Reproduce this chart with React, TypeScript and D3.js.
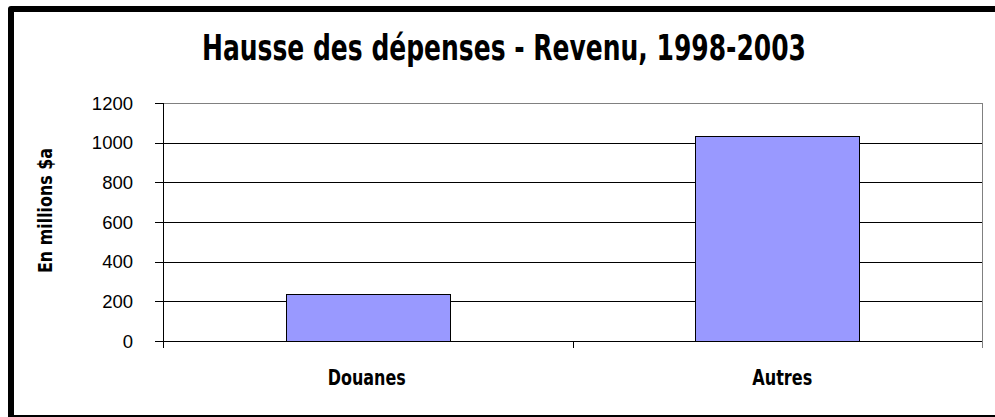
import React from "react";
import * as d3 from "d3";

const categories = ["Douanes", "Autres"];
const values = [237, 1032];
const yTicks = [0, 200, 400, 600, 800, 1000, 1200];
const title = "Hausse des dépenses - Revenu, 1998-2003";
const yLabel = "En millions $a";

const W = 995;
const H = 417;
const plot = { left: 163, right: 982, top: 103, bottom: 341 };
const condensed = "'Liberation Sans Narrow', 'DejaVu Sans Condensed', Roboto, 'Liberation Sans', Arial, sans-serif";

export default function App() {
  const x = d3
    .scaleBand<string>()
    .domain(categories)
    .range([plot.left, plot.right])
    .paddingInner(0.6)
    .paddingOuter(0.3);
  const band = d3.scaleBand<string>().domain(categories).range([plot.left, plot.right]);
  const y = d3.scaleLinear().domain([0, 1200]).range([plot.bottom, plot.top]);
  const labelWidths = [78, 60];
  const catTicks = [plot.left, ...categories.map((c) => (band(c) as number) + band.bandwidth())];

  const frame = d3.path();
  frame.moveTo(W + 10, 9);
  frame.lineTo(11, 9);
  frame.lineTo(11, 418);
  frame.lineTo(W + 10, 418);

  return (
    <div style={{ position: "absolute", left: 0, top: 0, width: W, height: H, overflow: "hidden" }}>
      <svg width={W} height={H} style={{ display: "block", background: "#fff" }}>
        <rect x={0} y={0} width={W} height={H} fill="#fff" />
        <path d={frame.toString()} fill="none" stroke="#000" strokeWidth={6} strokeLinejoin="round" />
        <text
          x={504}
          y={60}
          textAnchor="middle"
          fontFamily={condensed}
          fontWeight={700}
          fontSize={36}
          textLength={604}
          lengthAdjust="spacingAndGlyphs"
          fill="#000"
        >
          {title}
        </text>
        <rect
          x={plot.left + 0.5}
          y={plot.top + 0.5}
          width={plot.right - plot.left}
          height={plot.bottom - plot.top}
          fill="#fff"
          stroke="#808080"
          strokeWidth={1}
        />
        {yTicks.slice(1).map((t) => (
          <line
            key={"g" + t}
            x1={plot.left}
            x2={plot.right}
            y1={Math.round(y(t)) + 0.5}
            y2={Math.round(y(t)) + 0.5}
            stroke={t === 1200 ? "#808080" : "#000"}
            strokeWidth={1}
          />
        ))}
        {categories.map((c, i) => (
          <rect
            key={c}
            x={Math.round(x(c) as number) + 0.5}
            y={Math.round(y(values[i])) + 0.5}
            width={Math.round(x.bandwidth())}
            height={Math.round(y(0)) - Math.round(y(values[i]))}
            fill="#9999FF"
            stroke="#000"
            strokeWidth={1}
          />
        ))}
        <line x1={plot.left + 0.5} x2={plot.left + 0.5} y1={plot.top} y2={plot.bottom + 7} stroke="#000" />
        {yTicks.map((t) => (
          <g key={"t" + t}>
            <line
              x1={plot.left - 8}
              x2={plot.left}
              y1={Math.round(y(t)) + 0.5}
              y2={Math.round(y(t)) + 0.5}
              stroke="#000"
            />
            <text
              x={133}
              y={y(t)}
              dy="0.36em"
              textAnchor="end"
              fontFamily="'Liberation Sans', Arial, sans-serif"
              fontSize={18.5}
              fill="#000"
            >
              {t}
            </text>
          </g>
        ))}
        <line x1={plot.left - 8} x2={plot.right} y1={plot.bottom + 0.5} y2={plot.bottom + 0.5} stroke="#000" />
        {catTicks.map((tx, i) => (
          <line
            key={"c" + i}
            x1={Math.round(tx) + 0.5}
            x2={Math.round(tx) + 0.5}
            y1={plot.bottom}
            y2={plot.bottom + 7}
            stroke={i === catTicks.length - 1 ? "#808080" : "#000"}
          />
        ))}
        {categories.map((c, i) => (
          <text
            key={"l" + c}
            x={(band(c) as number) + band.bandwidth() / 2 + (i === 0 ? -1 : 5)}
            y={385}
            textAnchor="middle"
            fontFamily={condensed}
            fontWeight={700}
            fontSize={21}
            textLength={labelWidths[i]}
            lengthAdjust="spacingAndGlyphs"
            fill="#000"
          >
            {c}
          </text>
        ))}
        <text
          transform={`translate(52, ${210.5}) rotate(-90)`}
          textAnchor="middle"
          fontFamily={condensed}
          fontWeight={700}
          fontSize={20}
          textLength={125}
          lengthAdjust="spacingAndGlyphs"
          fill="#000"
        >
          {yLabel}
        </text>
      </svg>
    </div>
  );
}
